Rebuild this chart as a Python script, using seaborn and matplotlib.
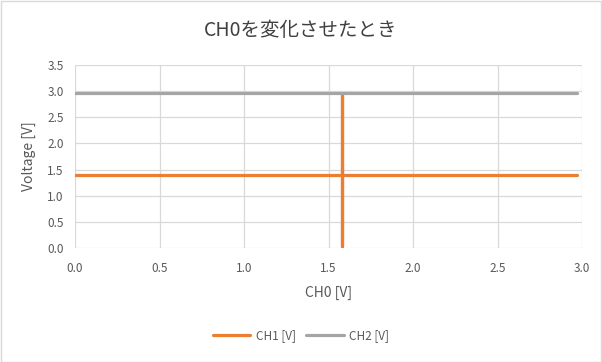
import matplotlib
matplotlib.use("Agg")
import matplotlib.pyplot as plt
import seaborn as sns
import pandas as pd
from matplotlib.patches import Rectangle

# Data
ch0_ch1 = [0.0, 1.58, 1.58, 1.58, 1.58, 2.97]
ch1 = [1.39, 1.39, 0.03, 2.93, 1.39, 1.39]
ch0_ch2 = [0.0, 2.97]
ch2 = [2.97, 2.97]
x_ticks = [0.0, 0.5, 1.0, 1.5, 2.0, 2.5, 3.0]
y_ticks = [0.0, 0.5, 1.0, 1.5, 2.0, 2.5, 3.0, 3.5]

sns.set_theme(style="white")
plt.rcParams['font.family'] = ['Noto Sans CJK JP', 'DejaVu Sans']

fig = plt.figure(figsize=(6.02, 3.62), dpi=100)
ax = fig.add_axes([0.1246, 0.315, 0.8422, 0.5054])

df1 = pd.DataFrame({"x": ch0_ch1, "y": ch1})
df2 = pd.DataFrame({"x": ch0_ch2, "y": ch2})
sns.lineplot(data=df1, x="x", y="y", sort=False, estimator=None, ax=ax,
             color="#ED7D31", linewidth=2.3, label="CH1 [V]", zorder=3)
sns.lineplot(data=df2, x="x", y="y", sort=False, estimator=None, ax=ax,
             color="#A5A5A5", linewidth=2.3, label="CH2 [V]", zorder=3)

ax.set_xlim(0, 3.0)
ax.set_ylim(0, 3.5)
ax.set_xticks(x_ticks)
ax.set_yticks(y_ticks)
ax.set_xticklabels([f"{v:.1f}" for v in x_ticks])
ax.set_yticklabels([f"{v:.1f}" for v in y_ticks])
ax.grid(True, color="#D9D9D9", linewidth=0.9)
ax.set_axisbelow(True)
for s in ax.spines.values():
    s.set_visible(False)
ax.tick_params(axis="both", length=0, labelsize=8.5, colors="#595959", pad=10)
ax.tick_params(axis="y", pad=8)

ax.set_xlabel("CH0 [V]", fontsize=10, color="#595959", labelpad=8)
ax.set_ylabel("Voltage [V]", fontsize=10, color="#595959", labelpad=8)
fig.text(0.5, 0.917, "CH0を変化させたとき", ha="center", va="center",
         fontsize=14, color="#404040")

handles, labels = ax.get_legend_handles_labels()
ax.get_legend().remove()
leg = fig.legend(handles, labels, loc="center", bbox_to_anchor=(0.5, 0.072), ncol=2,
                 frameon=False, fontsize=8.5, handlelength=3.2, columnspacing=0.8,
                 handletextpad=0.5)
for t in leg.get_texts():
    t.set_color("#595959")

fig.patches.append(Rectangle((0.001, 0.001), 0.997, 0.996, transform=fig.transFigure,
                             fill=False, edgecolor="#D9D9D9", linewidth=1))

fig.savefig("out.png", dpi=100)
